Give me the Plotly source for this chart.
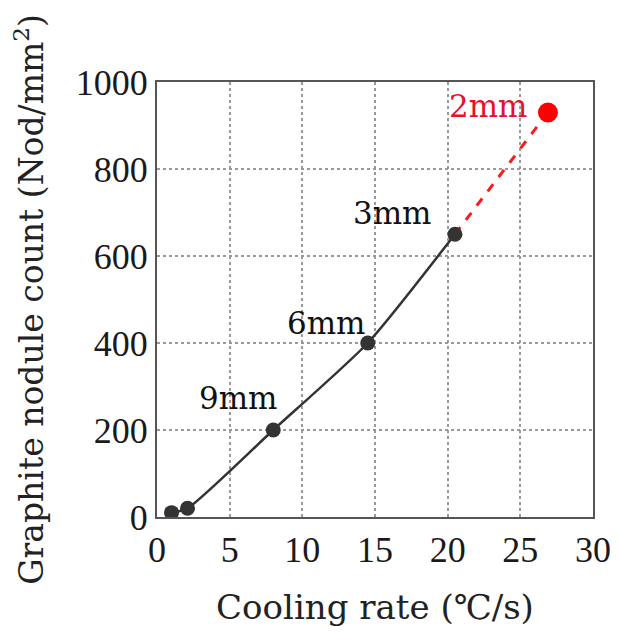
import plotly.graph_objects as go

# Data
cooling_rate = [1.0, 2.1, 8.0, 14.5, 20.5]
nodule_count = [10, 20, 200, 400, 650]
ext_rate = [20.5, 26.9]
ext_count = [650, 930]
labels = ["9mm", "6mm", "3mm"]
label_x = [5.58, 11.65, 16.2]
label_y = [274, 447, 698]
red_label = "2mm"
red_label_x = 22.8
red_label_y = 944

x_ticks = [0, 5, 10, 15, 20, 25, 30]
y_ticks = [0, 200, 400, 600, 800, 1000]

tick_font = "Liberation Serif, Times New Roman, serif"
text_font = "DejaVu Serif, serif"

fig = go.Figure()
fig.add_trace(go.Scatter(
    x=ext_rate, y=ext_count, mode="lines",
    line=dict(color="#ff1a1a", width=3, dash="dash"),
    showlegend=False, hoverinfo="skip"))
fig.add_trace(go.Scatter(
    x=[ext_rate[1]], y=[ext_count[1]], mode="markers",
    marker=dict(color="#ff0000", size=20),
    showlegend=False))
fig.add_trace(go.Scatter(
    x=cooling_rate, y=nodule_count, mode="lines+markers",
    line=dict(color="#333333", width=2.5, shape="spline", smoothing=0.6),
    marker=dict(color="#333333", size=15),
    showlegend=False))

for t, xx, yy in zip(labels, label_x, label_y):
    fig.add_annotation(x=xx, y=yy, text=t, showarrow=False,
                       font=dict(family=text_font, size=31, color="#111111"))
fig.add_annotation(x=red_label_x, y=red_label_y, text=red_label, showarrow=False,
                   font=dict(family=text_font, size=31, color="#e8102a"))

fig.update_layout(
    width=611, height=624,
    margin=dict(l=149, r=26, t=74, b=115),
    paper_bgcolor="white", plot_bgcolor="white",
    font=dict(family=text_font, color="#222222"),
)
fig.update_xaxes(
    range=[0, 30], tickvals=x_ticks, ticktext=[str(v) for v in x_ticks],
    showline=True, linecolor="#555555", linewidth=2, mirror=True,
    showgrid=True, gridcolor="#999999", griddash="dot", gridwidth=1.5,
    zeroline=False, ticks="", automargin=False,
    tickfont=dict(family=tick_font, size=36, color="#1a1a1a"),
    title=dict(text="Cooling rate (℃/s)", font=dict(family=text_font, size=34, color="#222222"), standoff=26),
)
fig.update_yaxes(
    range=[0, 1000], tickvals=y_ticks, ticktext=[str(v) for v in y_ticks],
    showline=True, linecolor="#555555", linewidth=2, mirror=True,
    showgrid=True, gridcolor="#999999", griddash="dot", gridwidth=1.5,
    zeroline=False, ticks="", automargin=False,
    tickfont=dict(family=tick_font, size=36, color="#1a1a1a"),
    title=dict(text="Graphite nodule count (Nod/mm<sup>2</sup>)", font=dict(family=text_font, size=33, color="#222222"), standoff=24),
)

fig.write_html("out.html")
